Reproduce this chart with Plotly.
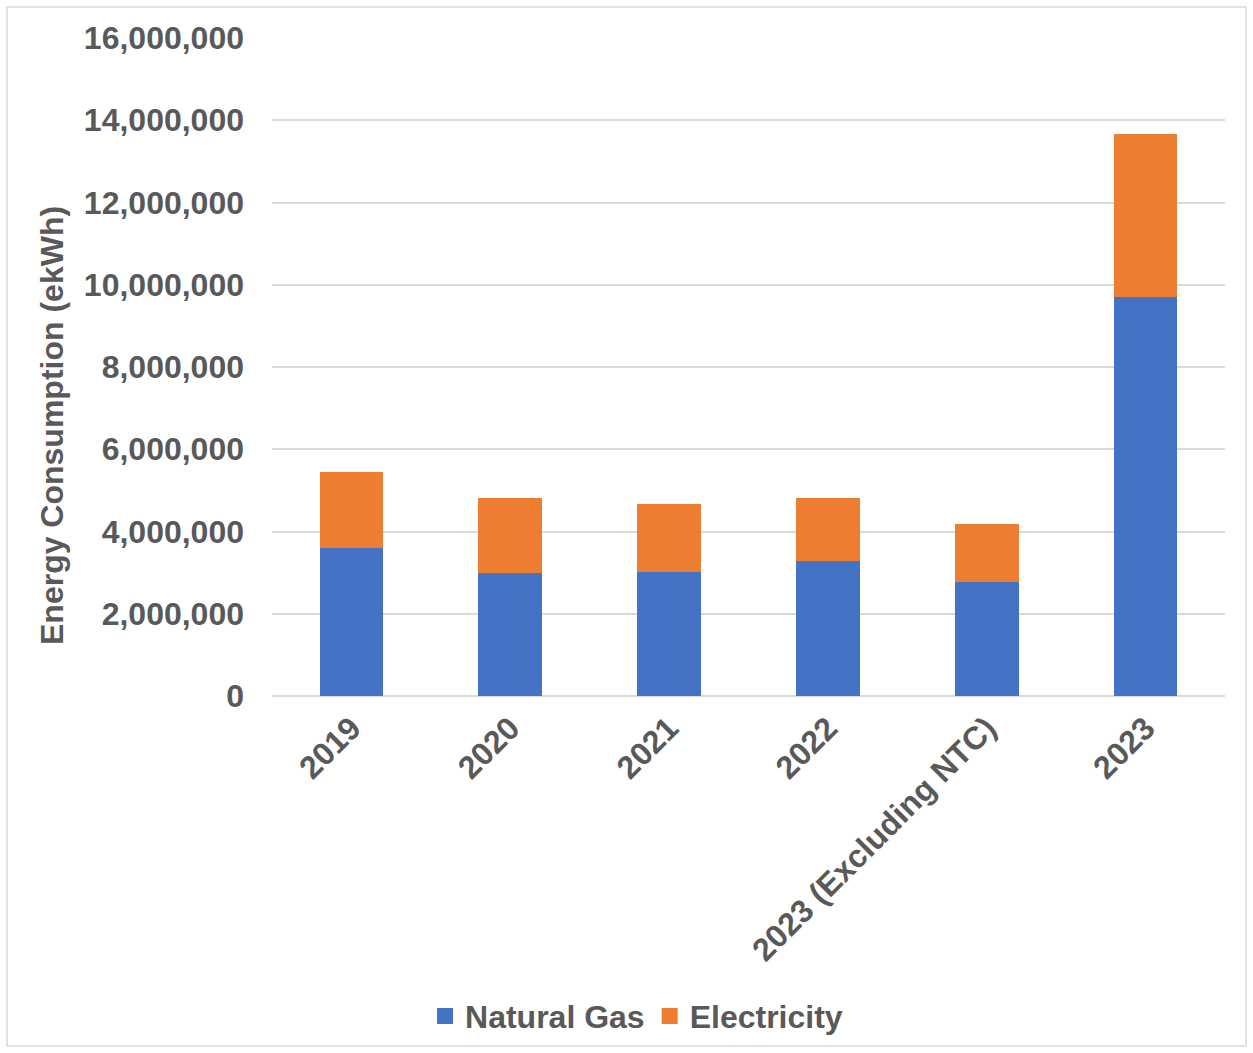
import plotly.graph_objects as go

categories = ["2019", "2020", "2021", "2022", "2023 (Excluding NTC)", "2023"]
natural_gas = [3600000, 2990000, 3020000, 3280000, 2770000, 9710000]
electricity = [1850000, 1830000, 1650000, 1540000, 1410000, 3960000]
y_ticks = [0, 2000000, 4000000, 6000000, 8000000, 10000000, 12000000, 14000000, 16000000]
series_names = ["Natural Gas", "Electricity"]
series_colors = ["#4472C4", "#ED7D31"]

FONT = "Liberation Sans, Arial, sans-serif"
GREY = "#595959"
FS = 32

W, H = 1253, 1053
L, R, T, B = 272, 28, 38, 357
pw, ph = W - L - R, H - T - B

def px_x(x):
    return (x - L) / pw

def px_y(y):
    return (H - B - y) / ph

fig = go.Figure()
for name, vals, col in zip(series_names, [natural_gas, electricity], series_colors):
    fig.add_trace(go.Bar(x=categories, y=vals, name=name, showlegend=False,
                         marker=dict(color=col, line=dict(width=0))))
# legend entries with larger square swatches
for name, col in zip(series_names, series_colors):
    fig.add_trace(go.Scatter(x=[None], y=[None], mode="markers", name=name,
                             marker=dict(symbol="square", size=17, color=col)))

fig.update_layout(
    width=W, height=H,
    barmode="stack", bargap=0.6,
    margin=dict(l=L, r=R, t=T, b=B),
    paper_bgcolor="white", plot_bgcolor="white",
    font=dict(family=FONT, color=GREY, size=FS),
    showlegend=True,
    legend=dict(orientation="h", xref="container", yref="container",
                x=0.508, y=0.035, xanchor="center", yanchor="middle",
                traceorder="normal",
                font=dict(family=FONT, size=FS, color=GREY, weight="bold"),
                itemwidth=30, tracegroupgap=0),
    xaxis=dict(tickangle=-45, tickfont=dict(family=FONT, size=FS, color=GREY, weight="bold"),
               showgrid=False, showline=False, ticks="", ticklabelstandoff=6),
    yaxis=dict(range=[0, 16000000], tickvals=y_ticks, tickformat=",d",
               tickfont=dict(family=FONT, size=FS, color=GREY, weight="bold"),
               showgrid=True, gridcolor="#d9d9d9", gridwidth=1.5,
               zeroline=True, zerolinecolor="#d9d9d9", zerolinewidth=1.5,
               showline=False, ticks="", ticklabelstandoff=27),
    annotations=[dict(text="Energy Consumption (ekWh)", xref="paper", yref="paper",
                      x=px_x(52), y=px_y(426), textangle=-90, showarrow=False,
                      xanchor="center", yanchor="middle",
                      font=dict(family=FONT, size=FS, color=GREY, weight="bold"))],
    shapes=[dict(type="rect", xref="paper", yref="paper",
                 x0=px_x(7), x1=px_x(1246), y0=px_y(1046), y1=px_y(7),
                 line=dict(color="#d9d9d9", width=1.5), fillcolor="rgba(0,0,0,0)", layer="below")],
)

fig.write_html("out.html")
